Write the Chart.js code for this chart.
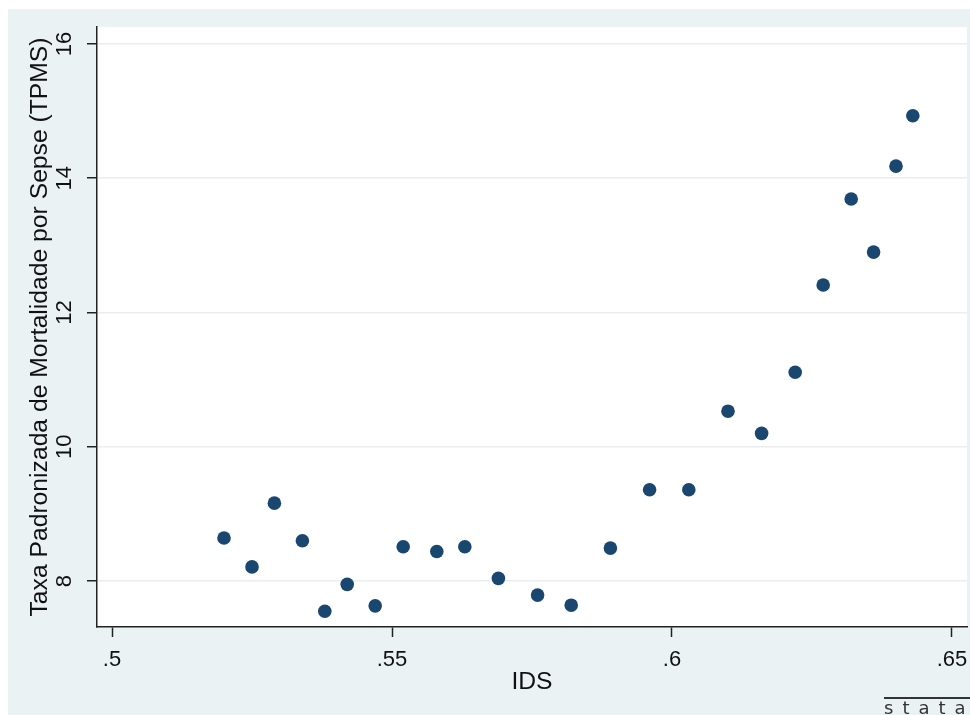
<!DOCTYPE html>
<html>
<head>
<meta charset="utf-8">
<script src="https://cdn.jsdelivr.net/npm/chart.js@4"></script>
<style>
   html, body { margin: 0; padding: 0; background: #fff; overflow: hidden; }
   .wrap { position: relative; width: 970px; height: 715px; overflow: hidden; }
   .logo {
      position: absolute; left: 884px; top: 697px; width: 120px;
      border-top: 2px solid #333; font-family: "DejaVu Sans", sans-serif;
      font-size: 18px; letter-spacing: 9px; color: #333; line-height: 18px;
   }
</style>
</head>
<body>
<div class="wrap">
   <canvas id="ids-chart" width="970" height="715"></canvas>
   <div class="logo">stata</div>
</div>
<script>
// dane
const ids = [0.520, 0.525, 0.529, 0.534, 0.538, 0.542, 0.547, 0.552, 0.558, 0.563, 0.569, 0.576,
             0.582, 0.589, 0.596, 0.603, 0.610, 0.616, 0.622, 0.627, 0.632, 0.636, 0.640, 0.643];
const tpms = [8.64, 8.21, 9.16, 8.60, 7.55, 7.95, 7.63, 8.51, 8.44, 8.51, 8.04, 7.79,
              7.64, 8.49, 9.36, 9.36, 10.53, 10.20, 11.11, 12.41, 13.69, 12.90, 14.18, 14.93];
const x_ticks = [0.5, 0.55, 0.6, 0.65];
const x_tick_labels = ['.5', '.55', '.6', '.65'];
const y_ticks = [8, 10, 12, 14, 16];
const y_tick_labels = ['8', '10', '12', '14', '16'];
const x_title = 'IDS';
const y_title = 'Taxa Padronizada de Mortalidade por Sepse (TPMS)';

const points = ids.map((v, i) => ({ x: v, y: tpms[i] }));

//tło w stylu stata (s2color)
const background = {
   id: 'background',
   beforeDraw(chart) {
      const ctx = chart.ctx;
      const a = chart.chartArea;
      ctx.save();
      ctx.fillStyle = '#ffffff';
      ctx.fillRect(0, 0, chart.width, chart.height);
      ctx.fillStyle = '#eaf2f3';
      ctx.fillRect(8, 9, chart.width - 8, chart.height - 9);
      ctx.fillStyle = '#ffffff';
      ctx.fillRect(a.left, a.top, a.right - a.left, a.bottom - a.top);
      ctx.restore();
   }
};

const font_ticks = { family: 'Liberation Sans, Arial, sans-serif', size: 22 };
const font_title = { family: 'Liberation Sans, Arial, sans-serif', size: 24.7 };

const config = {
   type: 'scatter',
   data: {
      datasets: [{
         data: points,
         backgroundColor: '#1a476f',
         borderColor: '#1a476f',
         borderWidth: 0,
         pointRadius: 6.8,
         pointHoverRadius: 6.8
      }]
   },
   options: {
      responsive: false,
      animation: false,
      devicePixelRatio: 1,
      layout: { autoPadding: false, padding: { left: 8, top: 27, right: 3, bottom: 0 } },
      plugins: { legend: { display: false }, tooltip: { enabled: false } },
      scales: {
         x: {
            type: 'linear',
            min: 0.49732,
            max: 0.65268,
            afterBuildTicks: s => { s.ticks = x_ticks.map(v => ({ value: v })); },
            afterFit: s => { s.height = 88; s.paddingLeft = 0; s.paddingRight = 0; },
            grid: { display: true, drawOnChartArea: false, tickColor: '#222', tickLength: 10, tickWidth: 1.5 },
            border: { color: '#222', width: 1.5 },
            ticks: {
               color: '#111', font: font_ticks, padding: 10, maxRotation: 0,
               callback: v => x_tick_labels[x_ticks.indexOf(v)]
            },
            title: { display: true, text: x_title, color: '#111', font: font_title, padding: { top: 0, bottom: 18 } }
         },
         y: {
            type: 'linear',
            min: 7.315,
            max: 16.253,
            afterBuildTicks: s => { s.ticks = y_ticks.map(v => ({ value: v })); },
            afterFit: s => { s.width = 89; s.paddingTop = 0; s.paddingBottom = 0; },
            grid: { color: '#eaeeee', lineWidth: 1.5, tickColor: '#222', tickLength: 10, tickWidth: 1.5 },
            border: { color: '#222', width: 1.5 },
            ticks: {
               color: '#111', font: font_ticks, padding: 10, minRotation: 90, maxRotation: 90, crossAlign: 'center',
               callback: v => y_tick_labels[y_ticks.indexOf(v)]
            },
            title: { display: true, text: y_title, color: '#111', font: font_title, padding: { top: 17, bottom: 0 } }
         }
      }
   },
   plugins: [background]
};

const main_chart = new Chart(document.getElementById('ids-chart'), config);
</script>
</body>
</html>
